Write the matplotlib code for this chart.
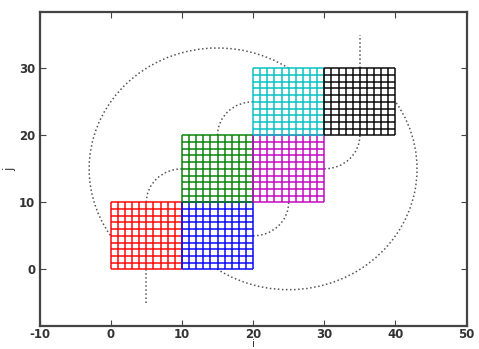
import matplotlib
matplotlib.use("Agg")
import matplotlib.pyplot as plt
from matplotlib.patches import Arc, Rectangle

plt.rcParams['axes.unicode_minus'] = False

# lower-left corner of every 10x10 block and its colour
block_x = [0, 10, 10, 20, 20, 30]
block_y = [0, 0, 10, 10, 20, 20]
block_colors = ['r', 'b', 'g', 'm', 'c', 'k']
block_size = 10

# dotted path pieces seen outside the blocks
# arcs: centre x, centre y, radius, start angle, end angle (degrees)
arc_cx = [10, 20, 15, 25, 20, 30]
arc_cy = [10, 20, 15, 15, 10, 20]
arc_r = [5, 5, 18.03, 18.03, 5, 5]
arc_t1 = [90, 90, 56.3, 213.7, 270, 270]
arc_t2 = [180, 180, 213.7, 33.7, 360, 360]
# straight stubs: x, y0, y1
stub_x = [5, 35]
stub_y0 = [-5, 30]
stub_y1 = [0, 35]

fig = plt.figure(figsize=(4.79, 3.49), dpi=100)
ax = fig.add_axes([0.0825, 0.0668, 0.8918, 0.8988])

for cx, cy, r, t1, t2 in zip(arc_cx, arc_cy, arc_r, arc_t1, arc_t2):
    ax.add_patch(Arc((cx, cy), 2 * r, 2 * r, theta1=t1, theta2=t2,
                     color='#555555', ls=':', lw=1.1, zorder=1))
for x, y0, y1 in zip(stub_x, stub_y0, stub_y1):
    ax.plot([x, x], [y0, y1], color='#555555', ls=':', lw=1.1, zorder=1)

for bx, by, c in zip(block_x, block_y, block_colors):
    # white cells hide the path inside the block
    ax.add_patch(Rectangle((bx, by), block_size, block_size, fc='white',
                           ec='none', zorder=1.5))
    for k in range(block_size + 1):
        ax.plot([bx + k, bx + k], [by, by + block_size], color=c, lw=1.4,
                alpha=0.75, zorder=2, solid_capstyle='butt')
        ax.plot([bx, bx + block_size], [by + k, by + k], color=c, lw=1.4,
                alpha=0.75, zorder=2, solid_capstyle='butt')

ax.set_xlim(-10, 50)
ax.set_ylim(-8.4, 38.4)
ax.set_xticks([-10, 0, 10, 20, 30, 40, 50])
ax.set_yticks([0, 10, 20, 30])
ax.tick_params(direction='in', top=True, right=True, length=4, width=0.8,
               colors='#444444', labelsize=8.5, labelcolor='#333333')
ax.tick_params(axis='x', pad=1.5)
ax.tick_params(axis='y', pad=3)
for lab in ax.get_xticklabels() + ax.get_yticklabels():
    lab.set_fontweight('bold')
for s in ax.spines.values():
    s.set_linewidth(1.6)
    s.set_color('#444444')
ax.set_xlabel('i', fontsize=7.5, color='#333333', labelpad=-1)
ax.set_ylabel('j', fontsize=8.5, color='#333333', labelpad=2)

fig.savefig('out.png', dpi=100)
